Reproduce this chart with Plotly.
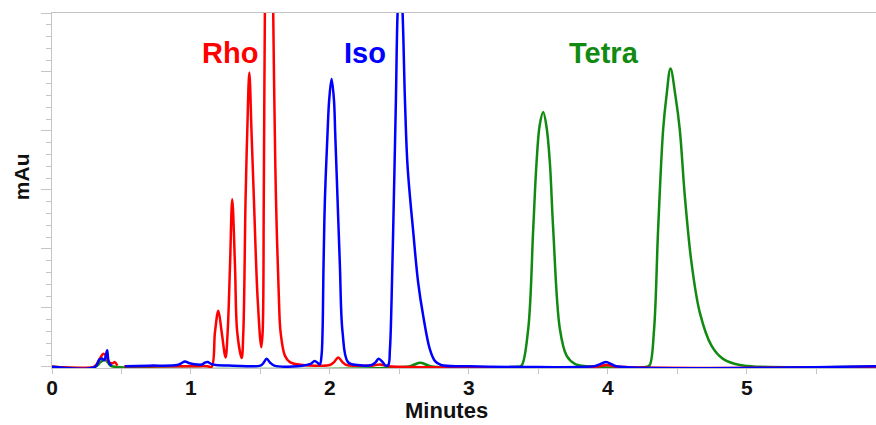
import plotly.graph_objects as go

# ---- data (time in minutes, signal in arbitrary mAu units)
rho_t = [0.00, 0.30, 0.32, 0.345, 0.37, 0.39, 0.41, 0.43, 0.445, 0.453, 0.47, None,
         0.52, 1.00, 1.12, 1.149, 1.173, 1.197, 1.221, 1.249, 1.264, 1.281, 1.297, 1.317,
         1.333, 1.365, 1.377, 1.393, 1.405, 1.420, 1.436, 1.453, 1.480, 1.506, 1.516,
         1.524, 1.532, 1.547, 1.562, 1.577, 1.592, 1.600, 1.612, 1.633, 1.645, 1.676,
         1.712, 1.806, 1.90, 2.00, 2.03, 2.06, 2.09, 2.12, 2.20, 2.30, 2.36, 2.42, 2.50,
         3.90, 3.99, 4.08, 5.93]
rho_v = [0, 0, 4, 14, 22, 18, 8, 6, 7, 8, 2, None,
         1, 1, 1, 0, 59, 95, 59, 16, 59, 171, 284, 171,
         59, 15, 59, 284, 397, 499, 397, 284, 115, 33, 59,
         284, 600, 900, 1000, 900, 600, 453, 284, 115, 59, 19,
         8, 3, 2, 3, 8, 16, 8, 3, 2, 2, 4, 1, 0,
         0, 3, 0, 0]

iso_t = [0.00, 0.31, 0.34, 0.36, 0.375, 0.39, 0.397, 0.405, 0.415, 0.43, None,
         0.525, 0.70, 0.90, 0.93, 0.957, 0.99, 1.04, 1.08, 1.10, 1.12, 1.145, 1.18,
         1.30, 1.50, 1.52, 1.545, 1.57, 1.60, 1.80, 1.86, 1.89, 1.915, 1.928, 1.940,
         1.947, 1.954, 1.964, 1.983, 1.995, 2.012, 2.029, 2.038, 2.055, 2.072, 2.091, 2.13,
         2.20, 2.30, 2.33, 2.35, 2.38, 2.40, 2.42, 2.432, 2.444, 2.46, 2.475, 2.487, 2.505,
         2.523, 2.54, 2.559, 2.60, 2.635, 2.671, 2.719, 2.755, 2.80, 3.00, 3.90, 3.93,
         3.986, 4.03, 4.06, 5.93]
iso_v = [0, 0, 12, 14, 11, 22, 28, 12, 5, 2, None,
         1, 2, 3, 6, 9, 6, 4, 4, 7, 8, 5, 3,
         2, 2, 6, 13.5, 7, 2, 2, 5, 10, 6, 4, 20,
         59, 171, 284, 397, 453, 488, 453, 397, 284, 171, 59, 8,
         3, 3, 8, 13.5, 8, 2, 3, 30, 115, 284, 453, 600, 680,
         600, 453, 340, 228, 143, 87, 30, 10, 3, 1, 1, 3,
         8, 4, 1, 1]

tetra_t = [0.00, 0.31, 0.35, 0.38, 0.40, 0.42, 0.45, 2.55, 2.60, 2.65, 2.70, 2.75,
           3.35, 3.379, 3.427, 3.463, 3.487, 3.51, 3.535, 3.56, 3.583, 3.607, 3.655,
           3.703, 3.763, 3.85, 4.28, 4.302, 4.333, 4.362, 4.398, 4.422, 4.451, 4.487,
           4.518, 4.554, 4.602, 4.662, 4.746, 4.829, 4.95, 5.10, 5.93]
tetra_v = [0, 0, 8, 12, 8, 2, 0, 0, 3, 7, 3, 0,
           0, 2, 64, 233, 346, 410, 432, 405, 346, 233, 64,
           19, 5, 1, 0, 3, 64, 233, 402, 459, 506, 459,
           402, 290, 177, 92, 36, 13.5, 3, 0, 0]

peak_labels = ["Rho", "Iso", "Tetra"]
label_x = [1.284, 2.250, 3.970]
label_y = [533, 533, 533]
label_colors = ["#ff0000", "#0000ff", "#118a11"]

x_ticks = [0, 1, 2, 3, 4, 5]

fig = go.Figure()
line_opts = dict(shape="spline", smoothing=1.0)
fig.add_trace(go.Scatter(x=tetra_t, y=tetra_v, mode="lines", name="Tetra",
                         line=dict(color="#118a11", width=2.5, **line_opts)))
fig.add_trace(go.Scatter(x=rho_t, y=rho_v, mode="lines", name="Rho",
                         line=dict(color="#ff0000", width=2.5, **line_opts)))
fig.add_trace(go.Scatter(x=iso_t, y=iso_v, mode="lines", name="Iso",
                         line=dict(color="#0000ff", width=2.5, **line_opts)))

for txt, xx, yy, col in zip(peak_labels, label_x, label_y, label_colors):
    fig.add_annotation(x=xx, y=yy, text=txt, showarrow=False, xanchor="center", yanchor="middle",
                       font=dict(family="Liberation Sans, Arial", size=29, color=col, weight="bold"))

fig.add_annotation(xref="paper", yref="paper", x=0.479, y=-0.121, text="Minutes", showarrow=False,
                   xanchor="center", yanchor="middle",
                   font=dict(family="Liberation Sans, Arial", size=22, color="#111111", weight="bold"))
fig.add_annotation(xref="paper", yref="paper", x=-0.037, y=0.539, text="mAu", showarrow=False,
                   textangle=-90, xanchor="center", yanchor="middle",
                   font=dict(family="Liberation Sans, Arial", size=21, color="#111111", weight="bold"))

axis_gray = "#c4c4c4"
fig.update_layout(
    width=876, height=425,
    margin=dict(l=52, r=0, t=13, b=57),
    plot_bgcolor="white", paper_bgcolor="white",
    showlegend=False,
    xaxis=dict(range=[0, 5.93], tickvals=x_ticks, ticktext=[str(v) for v in x_ticks],
               showgrid=False, zeroline=False, showline=True, linecolor=axis_gray, linewidth=1,
               mirror=True, ticks="outside", ticklen=5, tickcolor=axis_gray,
               ticklabelstandoff=-4,
               minor=dict(dtick=0.5, tick0=0, ticks="outside", ticklen=5, tickcolor=axis_gray, showgrid=False),
               tickfont=dict(family="Liberation Sans, Arial", size=21, color="#111111", weight="bold")),
    yaxis=dict(range=[-2, 600], dtick=100, tick0=0, showticklabels=False, showgrid=False,
               zeroline=False, showline=True, linecolor=axis_gray, linewidth=1,
               ticks="outside", ticklen=10, tickcolor=axis_gray,
               minor=dict(dtick=20, ticks="outside", ticklen=5, tickcolor=axis_gray, showgrid=False)),
)

fig.write_html("out.html")
